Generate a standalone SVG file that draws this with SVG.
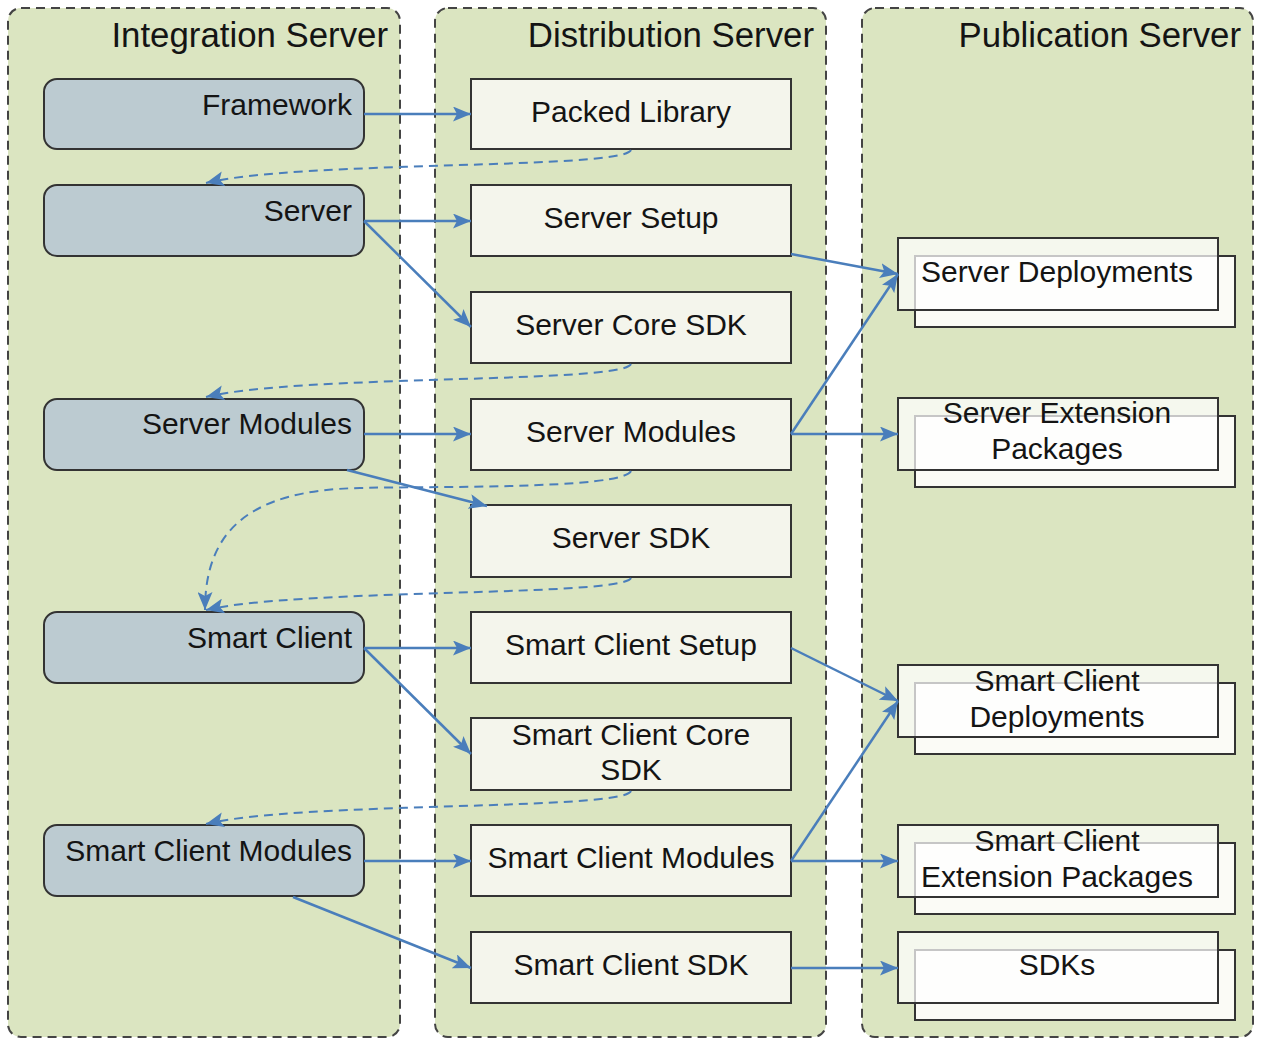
<svg xmlns="http://www.w3.org/2000/svg" width="1263" height="1039" viewBox="0 0 1263 1039">
  <style>
    .zone { fill: #dbe5c1; stroke: #444; stroke-width: 2; stroke-dasharray: 9 6; }
    .title { font-family: "Liberation Sans", Arial, sans-serif; font-size: 34.8px; fill: #141414; text-anchor: end; }
    .lbl { font-family: "Liberation Sans", Arial, sans-serif; font-size: 30px; fill: #141414; }
    .mid { text-anchor: middle; }
    .end { text-anchor: end; }
    .src { fill: #bccbd1; stroke: #333; stroke-width: 2; }
    .pkg { fill: #f4f5ec; stroke: #333; stroke-width: 2; }
    .back { fill: #fbfbf6; stroke: #333; stroke-width: 2; }
    .front { fill: #ffffff; fill-opacity: 0.72; stroke: #333; stroke-width: 2; }
    .flow { fill: none; stroke: #4a7ebb; stroke-width: 2.5; marker-end: url(#arr); }
    .dep { fill: none; stroke: #4a7ebb; stroke-width: 2; stroke-dasharray: 9 6; marker-end: url(#arr); }
  </style>
  <defs>
    <marker id="arr" markerUnits="userSpaceOnUse" markerWidth="19" markerHeight="15" refX="18" refY="7.5" orient="auto">
      <path d="M0,0 L18,7.5 L0,15 L4,7.5 z" fill="#4a7ebb"/>
    </marker>
  </defs>

  <rect width="1263" height="1039" fill="#ffffff"/>

  <!-- server zones -->
  <g id="zone-integration">
    <rect class="zone" x="8" y="8" width="392" height="1029" rx="13"/>
    <text class="title" x="388" y="47">Integration Server</text>
  </g>
  <g id="zone-distribution">
    <rect class="zone" x="435" y="8" width="391" height="1029" rx="13"/>
    <text class="title" x="814" y="47">Distribution Server</text>
  </g>
  <g id="zone-publication">
    <rect class="zone" x="862" y="8" width="391" height="1029" rx="13"/>
    <text class="title" x="1241" y="47">Publication Server</text>
  </g>

  <!-- integration sources -->
  <g id="src-framework">
    <rect class="src" x="44" y="79" width="320" height="70" rx="13"/>
    <text class="lbl end" x="352" y="115">Framework</text>
  </g>
  <g id="src-server">
    <rect class="src" x="44" y="185" width="320" height="71" rx="13"/>
    <text class="lbl end" x="352" y="221">Server</text>
  </g>
  <g id="src-server-modules">
    <rect class="src" x="44" y="399" width="320" height="71" rx="13"/>
    <text class="lbl end" x="352" y="434">Server Modules</text>
  </g>
  <g id="src-smart-client">
    <rect class="src" x="44" y="612" width="320" height="71" rx="13"/>
    <text class="lbl end" x="352" y="648">Smart Client</text>
  </g>
  <g id="src-smart-client-modules">
    <rect class="src" x="44" y="825" width="320" height="71" rx="13"/>
    <text class="lbl end" x="352" y="861">Smart Client Modules</text>
  </g>

  <!-- distribution packages -->
  <g id="pkg-packed-library">
    <rect class="pkg" x="471" y="79" width="320" height="70"/>
    <text class="lbl mid" x="631" y="122">Packed Library</text>
  </g>
  <g id="pkg-server-setup">
    <rect class="pkg" x="471" y="185" width="320" height="71"/>
    <text class="lbl mid" x="631" y="228">Server Setup</text>
  </g>
  <g id="pkg-server-core-sdk">
    <rect class="pkg" x="471" y="292" width="320" height="71"/>
    <text class="lbl mid" x="631" y="335">Server Core SDK</text>
  </g>
  <g id="pkg-server-modules">
    <rect class="pkg" x="471" y="399" width="320" height="71"/>
    <text class="lbl mid" x="631" y="442">Server Modules</text>
  </g>
  <g id="pkg-server-sdk">
    <rect class="pkg" x="471" y="505" width="320" height="72"/>
    <text class="lbl mid" x="631" y="548">Server SDK</text>
  </g>
  <g id="pkg-smart-client-setup">
    <rect class="pkg" x="471" y="612" width="320" height="71"/>
    <text class="lbl mid" x="631" y="655">Smart Client Setup</text>
  </g>
  <g id="pkg-smart-client-core-sdk">
    <rect class="pkg" x="471" y="718" width="320" height="72"/>
    <text class="lbl mid" x="631" y="745">Smart Client Core</text>
    <text class="lbl mid" x="631" y="780">SDK</text>
  </g>
  <g id="pkg-smart-client-modules">
    <rect class="pkg" x="471" y="825" width="320" height="71"/>
    <text class="lbl mid" x="631" y="868">Smart Client Modules</text>
  </g>
  <g id="pkg-smart-client-sdk">
    <rect class="pkg" x="471" y="932" width="320" height="71"/>
    <text class="lbl mid" x="631" y="975">Smart Client SDK</text>
  </g>

  <!-- published outputs (stacked) -->
  <g id="pub-server-deployments">
    <rect class="back" x="915" y="256" width="320" height="71"/>
    <rect class="front" x="898" y="238" width="320" height="72"/>
    <text class="lbl mid" x="1057" y="282">Server Deployments</text>
  </g>
  <g id="pub-server-extension-packages">
    <rect class="back" x="915" y="416" width="320" height="71"/>
    <rect class="front" x="898" y="398" width="320" height="72"/>
    <text class="lbl mid" x="1057" y="423">Server Extension</text>
    <text class="lbl mid" x="1057" y="459">Packages</text>
  </g>
  <g id="pub-smart-client-deployments">
    <rect class="back" x="915" y="683" width="320" height="71"/>
    <rect class="front" x="898" y="665" width="320" height="72"/>
    <text class="lbl mid" x="1057" y="691">Smart Client</text>
    <text class="lbl mid" x="1057" y="727">Deployments</text>
  </g>
  <g id="pub-smart-client-extension-packages">
    <rect class="back" x="915" y="843" width="320" height="71"/>
    <rect class="front" x="898" y="825" width="320" height="72"/>
    <text class="lbl mid" x="1057" y="851">Smart Client</text>
    <text class="lbl mid" x="1057" y="887">Extension Packages</text>
  </g>
  <g id="pub-sdks">
    <rect class="back" x="915" y="950" width="320" height="70"/>
    <rect class="front" x="898" y="932" width="320" height="71"/>
    <text class="lbl mid" x="1057" y="975">SDKs</text>
  </g>

  <!-- connectors -->
  <g id="connectors">
    <path class="flow" d="M364,114 L471,114"/>
    <path class="flow" d="M364,221 L471,221"/>
    <path class="flow" d="M364,221 L471,327"/>
    <path class="flow" d="M364,434 L471,434"/>
    <path class="flow" d="M347,470 L487,506"/>
    <path class="flow" d="M364,648 L471,648"/>
    <path class="flow" d="M364,648 L471,754"/>
    <path class="flow" d="M364,861 L471,861"/>
    <path class="flow" d="M293,897 L471,968"/>

    <path class="flow" d="M791,254 L898,274"/>
    <path class="flow" d="M791,434 L898,274"/>
    <path class="flow" d="M791,434 L898,434"/>
    <path class="flow" d="M791,648 L898,701"/>
    <path class="flow" d="M791,861 L898,701"/>
    <path class="flow" d="M791,861 L898,861"/>
    <path class="flow" d="M791,968 L898,968"/>

    <path class="dep" d="M631,150 C622,170 300,160 206,183"/>
    <path class="dep" d="M631,364 C622,384 300,374 206,397"/>
    <path class="dep" d="M631,471 C622,490 420,486 360,488 C250,490 205,530 205,610"/>
    <path class="dep" d="M631,578 C622,597 300,588 206,610"/>
    <path class="dep" d="M631,791 C622,811 300,801 206,824"/>
  </g>
</svg>
